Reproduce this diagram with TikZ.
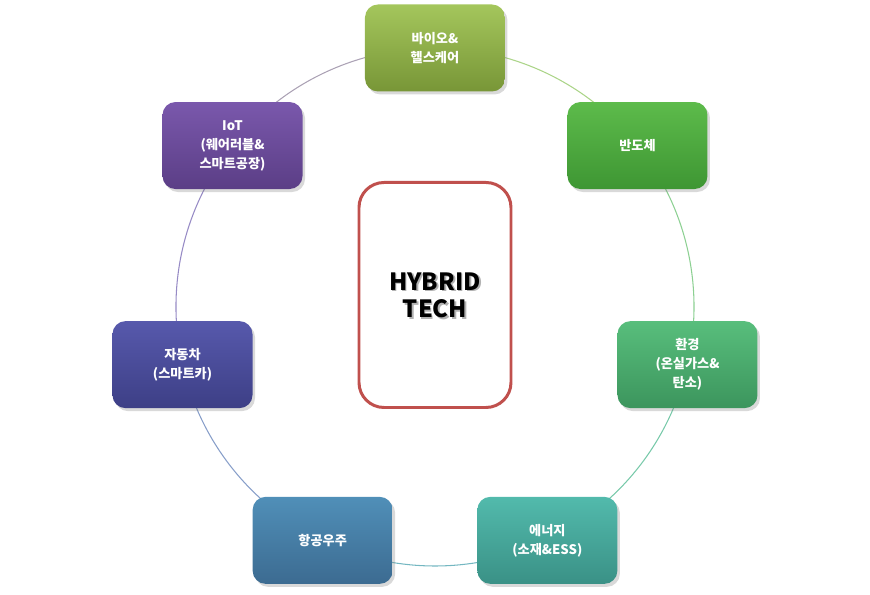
\documentclass[tikz,border=0pt]{standalone}
\usepackage{fontspec}
\setmainfont{Noto Sans CJK KR}
\usetikzlibrary{shadows, backgrounds}

\definecolor{bioT}{HTML}{A4C65C}
\definecolor{bioB}{HTML}{789637}
\definecolor{semiT}{HTML}{5DBB4B}
\definecolor{semiB}{HTML}{3E9633}
\definecolor{envT}{HTML}{58BE7C}
\definecolor{envB}{HTML}{3C955D}
\definecolor{enerT}{HTML}{52BAAC}
\definecolor{enerB}{HTML}{3A9186}
\definecolor{aeroT}{HTML}{508FB8}
\definecolor{aeroB}{HTML}{3C6B91}
\definecolor{carT}{HTML}{5759AC}
\definecolor{carB}{HTML}{3D3F86}
\definecolor{iotT}{HTML}{7A58AC}
\definecolor{iotB}{HTML}{5B3E86}
\definecolor{coreRed}{HTML}{C0504D}

\tikzstyle{sector} = [rectangle, rounded corners=0.26cm, minimum width=2.8cm, minimum height=1.74cm, text centered, align=center, text=white, font=\bfseries\fontsize{7.5}{10.8}\selectfont, drop shadow={shadow xshift=0.05cm, shadow yshift=-0.06cm, opacity=0.3}]
\tikzstyle{core} = [rectangle, rounded corners=0.5cm, minimum width=3.04cm, minimum height=4.5cm, draw=coreRed, line width=1.7pt, fill=white]
\tikzstyle{title} = [align=center, font=\bfseries\fontsize{13.5}{15.5}\selectfont]
\tikzstyle{ring} = [line width=0.6pt, bend left=25.7, looseness=0.9]

\begin{document}
\begin{tikzpicture}
  \useasboundingbox (-8.7,-5.76) rectangle (8.7,6.14);

  \node (core) [core] at (0,0.24) {};
  \node [title, text=black!30] at ([shift={(0.035,-0.035)}]core.center) {HYBRID\\TECH};
  \node (title) [title] at (core.center) {HYBRID\\TECH};

  \node (bio) [sector, top color=bioT, bottom color=bioB] at (90:5.18) {바이오\&\\헬스케어};
  \node (semi) [sector, top color=semiT, bottom color=semiB] at (38.57:5.18) {반도체};
  \node (env) [sector, top color=envT, bottom color=envB] at (-12.86:5.18) {환경\\(온실가스\&\\탄소)};
  \node (ener) [sector, top color=enerT, bottom color=enerB] at (-64.29:5.18) {에너지\\(소재\&ESS)};
  \node (aero) [sector, top color=aeroT, bottom color=aeroB] at (-115.71:5.18) {항공우주};
  \node (car) [sector, top color=carT, bottom color=carB] at (-167.14:5.18) {자동차\\(스마트카)};
  \node (iot) [sector, top color=iotT, bottom color=iotB] at (141.43:5.18) {IoT\\(웨어러블\&\\스마트공장)};

  \begin{pgfonlayer}{background}
    \draw [ring, draw=bioT!60!semiT!70] (bio.center) to (semi.center);
    \draw [ring, draw=semiT!50!envT!70] (semi.center) to (env.center);
    \draw [ring, draw=envT!50!enerT!80] (env.center) to (ener.center);
    \draw [ring, draw=enerT!50!aeroT!80] (ener.center) to (aero.center);
    \draw [ring, draw=aeroT!50!carT!70] (aero.center) to (car.center);
    \draw [ring, draw=carT!50!iotT!70] (car.center) to (iot.center);
    \draw [ring, draw=iotT!70!bioT!70] (iot.center) to (bio.center);
  \end{pgfonlayer}
\end{tikzpicture}
\end{document}
